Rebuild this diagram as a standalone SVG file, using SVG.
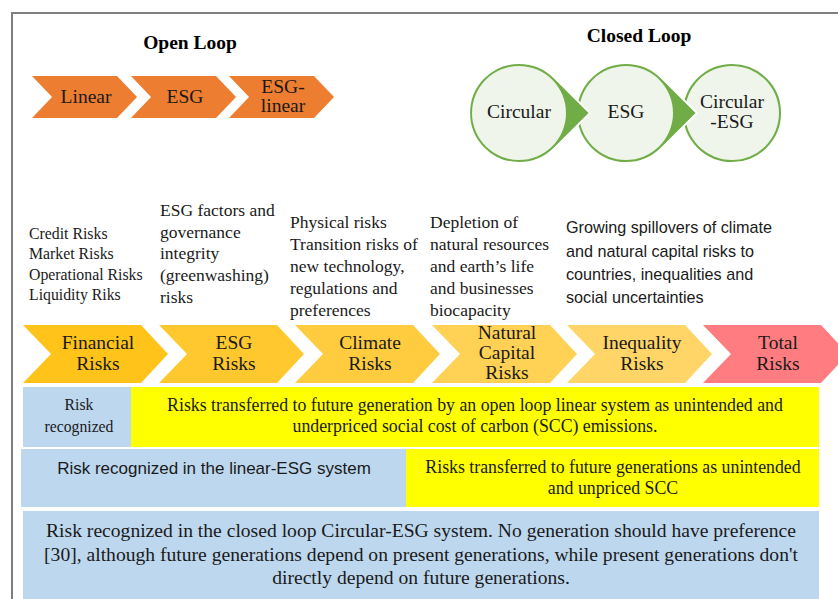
<svg xmlns="http://www.w3.org/2000/svg" width="838" height="599" viewBox="0 0 838 599">
<defs>
<style>
.serif{font-family:"Liberation Serif","Times New Roman",serif;fill:#1a1a1a}
.sans{font-family:"Liberation Sans",Arial,sans-serif;fill:#1a1a1a}
.title{font-family:"Liberation Serif","Times New Roman",serif;font-weight:bold;font-size:19.5px;fill:#000}
.lbl{font-size:19.5px}
.desc{font-size:17.5px}
.mid{text-anchor:middle}
.och{fill:#ED7D31}
.ring{fill:#70AD47;stroke:#fff;stroke-width:2}
.inner{fill:#EFF5EA}
.blue{fill:#BDD7EE}
.yel{fill:#FFFF00}
</style>
</defs>
<rect width="838" height="599" fill="#fff"/>
<path d="M12,599 V13 H838" fill="none" stroke="#7F7F7F" stroke-width="2"/>

<g id="open-loop">
<text class="title mid" x="190" y="49">Open Loop</text>
<g id="linear"><polygon class="och" points="32,76 117,76 137,97 117,118 32,118 52,97"/><text class="serif lbl mid" x="86" y="103">Linear</text></g>
<g id="esg-open"><polygon class="och" points="131,76 216,76 236,97 216,118 131,118 151,97"/><text class="serif lbl mid" x="185" y="103">ESG</text></g>
<g id="esg-linear"><polygon class="och" points="229,76 314,76 334,97 314,118 229,118 249,97"/><text class="serif lbl mid" x="283" y="93">ESG-</text><text class="serif lbl mid" x="283" y="112">linear</text></g>
</g>

<g id="closed-loop">
<text class="title mid" x="639" y="42">Closed Loop</text>
<g id="circular-esg"><circle cx="732" cy="113" r="50" fill="#70AD47" stroke="#fff" stroke-width="2"/><circle class="inner" cx="732" cy="113" r="47"/><text class="serif lbl mid" x="732" y="108">Circular</text><text class="serif lbl mid" x="732" y="128">-ESG</text></g>
<g id="esg-closed"><path class="ring" d="M661.4,77.6 A50,50 0 1 0 661.4,148.4 L697,113 Z"/><circle class="inner" cx="626" cy="113" r="47"/><text class="serif lbl mid" x="626" y="118">ESG</text></g>
<g id="circular"><path class="ring" d="M554.4,77.6 A50,50 0 1 0 554.4,148.4 L590,113 Z"/><circle class="inner" cx="519" cy="113" r="47"/><text class="serif lbl mid" x="519" y="118">Circular</text></g>
</g>

<g id="descriptions">
<text class="serif" font-size="15.8" x="29"><tspan x="29" y="239">Credit Risks</tspan><tspan x="29" y="259">Market Risks</tspan><tspan x="29" y="280">Operational Risks</tspan><tspan x="29" y="300">Liquidity Riks</tspan></text>
<text class="serif desc" x="160"><tspan x="160" y="216">ESG factors and</tspan><tspan x="160" y="238">governance</tspan><tspan x="160" y="259">integrity</tspan><tspan x="160" y="281">(greenwashing)</tspan><tspan x="160" y="303">risks</tspan></text>
<text class="serif desc" x="290"><tspan x="290" y="228">Physical risks</tspan><tspan x="290" y="250">Transition risks of</tspan><tspan x="290" y="272">new technology,</tspan><tspan x="290" y="294">regulations and</tspan><tspan x="290" y="316">preferences</tspan></text>
<text class="serif desc" x="430"><tspan x="430" y="228">Depletion of</tspan><tspan x="430" y="250">natural resources</tspan><tspan x="430" y="272">and earth’s life</tspan><tspan x="430" y="294">and businesses</tspan><tspan x="430" y="316">biocapacity</tspan></text>
<text class="sans" font-size="16.2" x="566"><tspan x="566" y="233">Growing spillovers of climate</tspan><tspan x="566" y="257">and natural capital risks to</tspan><tspan x="566" y="280">countries, inequalities and</tspan><tspan x="566" y="303">social uncertainties</tspan></text>
</g>

<g id="risk-chain">
<g id="financial"><polygon fill="#FFC31A" points="23,325 141,325 168,354 141,383 23,383 51,354"/><text class="serif lbl mid" x="98" y="349">Financial</text><text class="serif lbl mid" x="98" y="370">Risks</text></g>
<g id="esg-risks"><polygon fill="#FFC82E" points="159,325 277,325 304,354 277,383 159,383 187,354"/><text class="serif lbl mid" x="234" y="349">ESG</text><text class="serif lbl mid" x="234" y="370">Risks</text></g>
<g id="climate"><polygon fill="#FFCC40" points="295,325 413,325 440,354 413,383 295,383 323,354"/><text class="serif lbl mid" x="370" y="349">Climate</text><text class="serif lbl mid" x="370" y="370">Risks</text></g>
<g id="natural"><polygon fill="#FFD155" points="432,325 550,325 577,354 550,383 432,383 460,354"/><text class="serif lbl mid" x="507" y="339">Natural</text><text class="serif lbl mid" x="507" y="359">Capital</text><text class="serif lbl mid" x="507" y="379">Risks</text></g>
<g id="inequality"><polygon fill="#FFD567" points="567,325 685,325 712,354 685,383 567,383 595,354"/><text class="serif lbl mid" x="642" y="349">Inequality</text><text class="serif lbl mid" x="642" y="370">Risks</text></g>
<g id="total"><polygon fill="#FF7C80" points="703,325 821,325 848,354 821,383 703,383 731,354"/><text class="serif lbl mid" x="778" y="349">Total</text><text class="serif lbl mid" x="778" y="370">Risks</text></g>
</g>

<g id="row1">
<rect class="blue" x="23" y="387" width="108" height="60"/>
<rect class="yel" x="131" y="387" width="688" height="60"/>
<text class="serif mid" font-size="15.7" x="79"><tspan x="79" y="410">Risk</tspan><tspan x="79" y="432">recognized</tspan></text>
<text class="serif mid" font-size="17.8" x="475"><tspan x="475" y="411">Risks transferred to future generation by an open loop linear system as unintended and</tspan><tspan x="475" y="432">underpriced social cost of carbon (SCC) emissions.</tspan></text>
</g>

<g id="row2">
<rect class="blue" x="21" y="449" width="385" height="58"/>
<rect class="yel" x="406" y="449" width="413" height="58"/>
<text class="sans mid" font-size="17" x="214" y="474">Risk recognized in the linear-ESG system</text>
<text class="serif mid" font-size="17.8" x="613"><tspan x="613" y="473">Risks transferred to future generations as unintended</tspan><tspan x="613" y="494">and unpriced SCC</tspan></text>
</g>

<g id="row3">
<rect class="blue" x="23" y="511" width="796" height="90"/>
<text class="serif mid" font-size="19.6" x="421"><tspan x="421" y="537">Risk recognized in the closed loop Circular-ESG system. No generation should have preference</tspan><tspan x="421" y="561">[30], although future generations depend on present generations, while present generations don't</tspan><tspan x="421" y="584">directly depend on future generations.</tspan></text>
</g>
</svg>
